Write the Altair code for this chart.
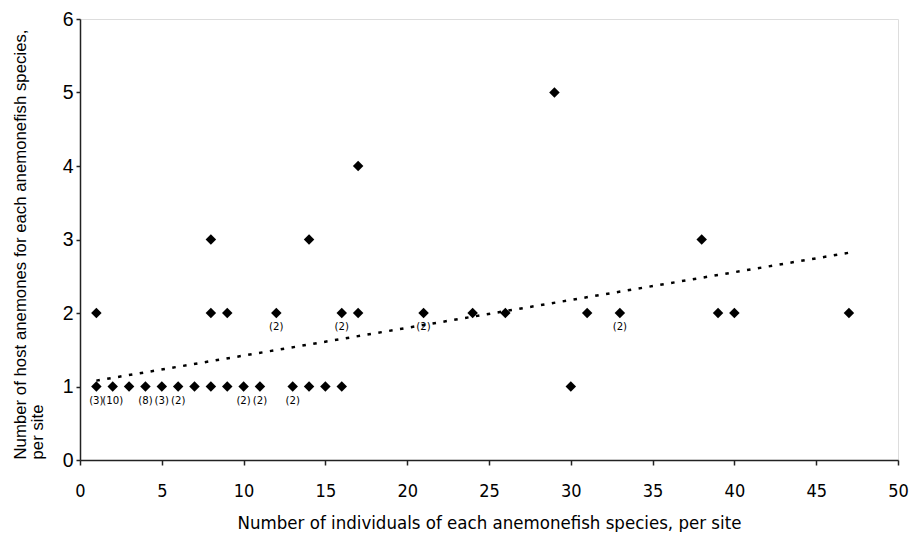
import altair as alt
import pandas as pd

# Scatter points
xs = [1, 2, 3, 4, 5, 6, 7, 8, 9, 10, 11, 13, 14, 15, 16, 30,
      1, 8, 9, 12, 16, 17, 21, 24, 26, 31, 33, 39, 40, 47,
      8, 14, 38,
      17,
      29]
ys = [1] * 16 + [2] * 14 + [3] * 3 + [4] + [5]

# Count labels under points
lab_x = [1, 2, 4, 5, 6, 10, 11, 13, 12, 16, 21, 33]
lab_y = [1, 1, 1, 1, 1, 1, 1, 1, 2, 2, 2, 2]
lab_t = ["(3)", "(10)", "(8)", "(3)", "(2)", "(2)", "(2)", "(2)", "(2)", "(2)", "(2)", "(2)"]

# Trend line endpoints
trend_x = [1, 47]
trend_y = [1.08, 2.82]

x_ticks = [0, 5, 10, 15, 20, 25, 30, 35, 40, 45, 50]
y_ticks = [0, 1, 2, 3, 4, 5, 6]

pts = pd.DataFrame({"x": xs, "y": ys})
labs = pd.DataFrame({"x": lab_x, "y": lab_y, "t": lab_t})
trend = pd.DataFrame({"x": trend_x, "y": trend_y})

cond = "DejaVu Sans Condensed"
arial = "Liberation Sans, Arial, Helvetica, sans-serif"

xscale = alt.Scale(domain=[0, 50], nice=False, zero=True)
yscale = alt.Scale(domain=[0, 6], nice=False, zero=True)

xaxis = alt.Axis(
    values=x_ticks, grid=False, format="d", labelFlush=False, labelOverlap=False,
    title="Number of individuals of each anemonefish species, per site",
    labelFont=cond, labelFontSize=18, labelColor="black", labelPadding=17,
    tickSize=5, tickColor="#222", domainColor="#222", domainWidth=1.5, tickWidth=1.5,
    titleFont=cond, titleFontSize=18.5, titleFontWeight="normal", titleColor="black",
    titleX=409, titleY=68, titleBaseline="alphabetic", titleAlign="center",
)
yaxis = alt.Axis(
    values=y_ticks, grid=False, format="d", labelFlush=False, labelOverlap=False,
    title=["Number of host anemones for each anemonefish species,", "per site"],
    labelFont=arial, labelFontSize=19.5, labelColor="black", labelPadding=3,
    tickSize=4, tickColor="#222", domainColor="#222", domainWidth=1.5, tickWidth=1.5,
    titleFont=arial, titleFontSize=16.8, titleFontWeight="normal", titleColor="black",
    titleAngle=-90, titleAlign="left", titleBaseline="top", titleX=-68, titleY=440,
    titleLineHeight=17,
)

points = alt.Chart(pts).mark_point(
    shape="diamond", filled=True, color="black", size=110, opacity=1
).encode(
    x=alt.X("x:Q", scale=xscale, axis=xaxis),
    y=alt.Y("y:Q", scale=yscale, axis=yaxis),
)

texts = alt.Chart(labs).mark_text(
    font=cond, fontSize=11.3, color="black", dy=14, baseline="middle", align="center"
).encode(
    x=alt.X("x:Q", scale=xscale),
    y=alt.Y("y:Q", scale=yscale),
    text="t:N",
)

line = alt.Chart(trend).mark_line(
    color="black", strokeDash=[3.5, 7.5], strokeWidth=2.5
).encode(
    x=alt.X("x:Q", scale=xscale),
    y=alt.Y("y:Q", scale=yscale),
)

chart = alt.layer(line, points, texts).properties(
    width=818, height=441,
    autosize=alt.AutoSizeParams(type="none"),
    padding={"left": 72, "top": 11, "right": 14, "bottom": 72},
).configure_view(
    stroke="#999", strokeWidth=1.5
).configure(background="white")

chart.save("out.html", embed_options={"renderer": "svg", "actions": False})
